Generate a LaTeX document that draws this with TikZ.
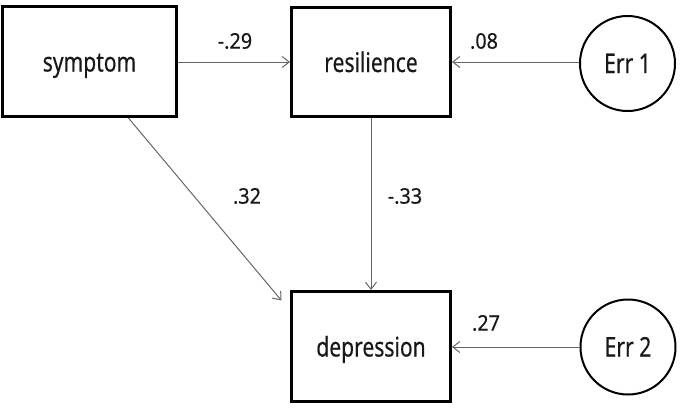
\documentclass[tikz,border=0pt]{standalone}
\usepackage{fontspec}
\setmainfont{Noto Sans}[FakeStretch=0.78,FakeBold=0.4]
\newfontfamily\lblfont{Noto Sans}[FakeStretch=0.92,FakeBold=0.4]
\usetikzlibrary{arrows.meta,calc}
\tikzset{
  var/.style={draw=black, line width=3pt, rectangle, fill=white, inner sep=0pt,
    minimum width=159pt, minimum height=110pt, text=black!90,
    text height=20pt, text depth=0pt,
    font=\fontsize{27pt}{30pt}\selectfont},
  err/.style={draw=black, line width=2pt, circle, fill=white, inner sep=0pt,
    minimum size=95pt, text=black!90, text height=19pt, text depth=0pt,
    font=\fontsize{27pt}{30pt}\selectfont},
  coef/.style={inner sep=0pt, text=black!90, font=\lblfont\fontsize{21.5pt}{23pt}\selectfont},
  path/.style={draw=black!60, line width=1pt, -{Straight Barb[length=7pt,width=11pt,line width=1pt]}}
}
\begin{document}
\begin{tikzpicture}[x=1pt,y=-1pt]
\useasboundingbox (0,0) rectangle (686,408);
\node[var, minimum width=174pt] (symptom) at (89.5,61.5) {symptom};
\node[var, minimum height=109pt] (resilience) at (371,62) {resilience};
\node[var] (depression) at (371,346.5) {depression};
\node[err] (err1) at (627.5,63.5) {Err 1};
\node[err] (err2) at (628,347) {Err 2};

\draw[path] (symptom.east |- resilience.west) -- (resilience.west);
\draw[path] (err1.west |- resilience.east) -- (resilience.east);
\draw[path] (resilience.south) -- (depression.north);
\draw[path] (err2.west) -- (depression.east |- err2.west);
\coordinate (diagend) at ($(depression.north west)+(-8.5,10.5)$);
\draw[path] ($(symptom.south west)!0.72!(symptom.south east)$) -- (diagend);

\node[coef] (c1) at (235,41) {-.29};
\node[coef] (c2) at (484,41) {.08};
\node[coef] (c3) at (247,196) {.32};
\node[coef] (c4) at (405,196) {-.33};
\node[coef] (c5) at (486,323) {.27};
\end{tikzpicture}
\end{document}
